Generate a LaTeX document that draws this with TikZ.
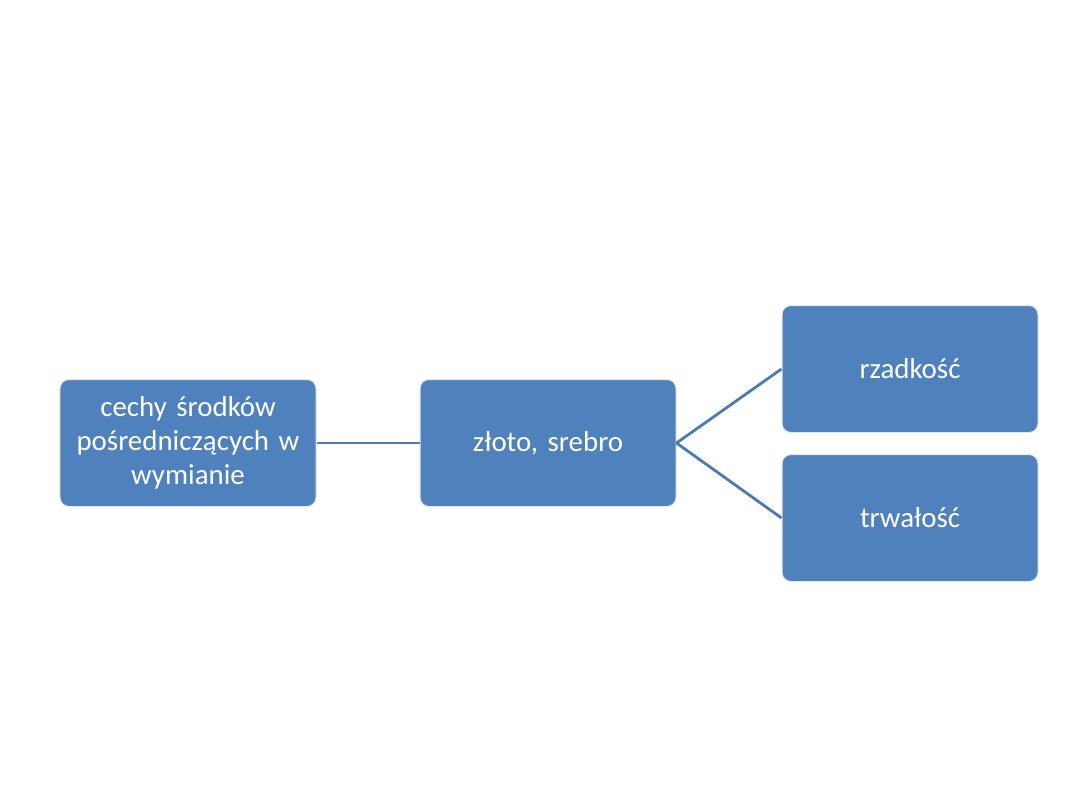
\documentclass[tikz,border=0pt]{standalone}
\usepackage{fontspec}
\setmainfont{Carlito}
\definecolor{boxblue}{HTML}{4F81BD}
\definecolor{edgegray}{HTML}{E4E8EE}
\tikzset{
  box/.style={draw=edgegray,line width=1bp,fill=boxblue,rounded corners=9bp,
    minimum width=256bp,minimum height=127bp,inner sep=0pt,text width=250bp,
    align=center,text=white,font=\fontsize{29}{34}\selectfont},
  link/.style={draw=boxblue!95!black,line width=2.8bp}
}
\begin{document}
\begin{tikzpicture}[x=1bp,y=-1bp]
\useasboundingbox[fill=white] (0,0) rectangle (1080,810);

\node[box] (cechy) at (188,443) {cechy środków\\pośredniczących w\\wymianie};
\node[box] (kruszec) at (548,443) {złoto, srebro};
\node[box] (rzadkosc) at (910,369) {rzadkość};
\node[box] (trwalosc) at (910,518) {trwałość};

\draw[link] (cechy.east) -- (kruszec.west);
\draw[link] (kruszec.east) -- (rzadkosc.west);
\draw[link] (kruszec.east) -- (trwalosc.west);
\end{tikzpicture}
\end{document}
